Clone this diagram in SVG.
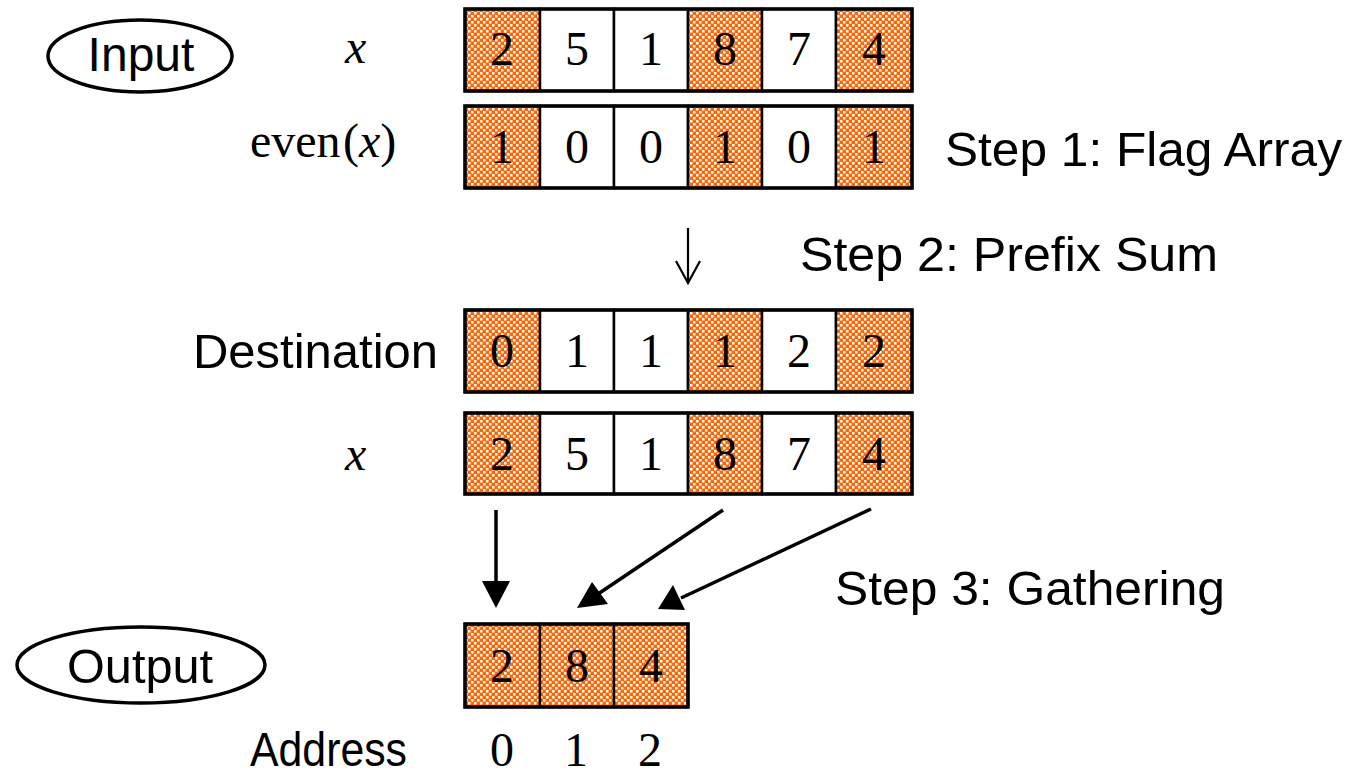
<svg xmlns="http://www.w3.org/2000/svg" width="1350" height="777" viewBox="0 0 1350 777">
<style>
.sans{font-family:"Liberation Sans",Arial,sans-serif;font-size:48px;fill:#000}
.serif{font-family:"Liberation Serif","Times New Roman",serif;font-size:48px;fill:#000}
.num{font-family:"Liberation Serif","Times New Roman",serif;font-size:48px;fill:#000;text-anchor:middle}
.it{font-style:italic}
.cell{stroke:#000;stroke-width:2.5;fill:#fff}
.hl{stroke:#000;stroke-width:2.5;fill:url(#hatch)}
.frame{fill:none;stroke:#000;stroke-width:3.5}
.oval{fill:#fff;stroke:#000;stroke-width:3.5}
.conn{stroke:#000;stroke-width:3.5;fill:none}
.head{fill:#000;stroke:none}
</style>
<defs>
<pattern id="hatch" patternUnits="userSpaceOnUse" width="6" height="6">
<rect width="6" height="6" fill="#ff6600"/>
<rect x="0" y="0" width="2.5" height="2.5" fill="#fff"/>
<rect x="3" y="3" width="2.5" height="2.5" fill="#fff"/>
</pattern>
</defs>
<rect width="1350" height="777" fill="#fff"/>

<g id="input-label">
<ellipse class="oval" cx="140" cy="56" rx="92" ry="36"/>
<text class="sans" x="141" y="71" text-anchor="middle">Input</text>
</g>
<g id="x-label-1"><text class="serif it" x="345" y="63">x</text></g>
<g id="even-label"><text class="serif" x="250" y="157">even</text><text class="serif" x="343" y="157">(<tspan class="it">x</tspan>)</text></g>

<g id="array-x">
<rect class="hl" x="465" y="9" width="75" height="82"/>
<rect class="cell" x="540" y="9" width="74" height="82"/>
<rect class="cell" x="614" y="9" width="74" height="82"/>
<rect class="hl" x="688" y="9" width="74" height="82"/>
<rect class="cell" x="762" y="9" width="74" height="82"/>
<rect class="hl" x="836" y="9" width="76" height="82"/>
<rect class="frame" x="465" y="9" width="447" height="82"/>
<text class="num" x="502" y="65">2</text><text class="num" x="577" y="65">5</text><text class="num" x="651" y="65">1</text>
<text class="num" x="725" y="65">8</text><text class="num" x="799" y="65">7</text><text class="num" x="874" y="65">4</text>
</g>

<g id="array-flag">
<rect class="hl" x="465" y="106" width="75" height="82"/>
<rect class="cell" x="540" y="106" width="74" height="82"/>
<rect class="cell" x="614" y="106" width="74" height="82"/>
<rect class="hl" x="688" y="106" width="74" height="82"/>
<rect class="cell" x="762" y="106" width="74" height="82"/>
<rect class="hl" x="836" y="106" width="76" height="82"/>
<rect class="frame" x="465" y="106" width="447" height="82"/>
<text class="num" x="502" y="163">1</text><text class="num" x="577" y="163">0</text><text class="num" x="651" y="163">0</text>
<text class="num" x="725" y="163">1</text><text class="num" x="799" y="163">0</text><text class="num" x="874" y="163">1</text>
</g>
<g id="step1"><text class="sans" x="945" y="166" textLength="397" lengthAdjust="spacingAndGlyphs">Step 1: Flag Array</text></g>
<g id="step2"><text class="sans" x="800" y="271" textLength="418" lengthAdjust="spacingAndGlyphs">Step 2: Prefix Sum</text></g>

<g id="destination-label"><text class="sans" x="193" y="368" textLength="245" lengthAdjust="spacingAndGlyphs">Destination</text></g>
<g id="array-dest">
<rect class="hl" x="465" y="310" width="75" height="82"/>
<rect class="cell" x="540" y="310" width="74" height="82"/>
<rect class="cell" x="614" y="310" width="74" height="82"/>
<rect class="hl" x="688" y="310" width="74" height="82"/>
<rect class="cell" x="762" y="310" width="74" height="82"/>
<rect class="hl" x="836" y="310" width="76" height="82"/>
<rect class="frame" x="465" y="310" width="447" height="82"/>
<text class="num" x="502" y="367">0</text><text class="num" x="577" y="367">1</text><text class="num" x="651" y="367">1</text>
<text class="num" x="725" y="367">1</text><text class="num" x="799" y="367">2</text><text class="num" x="874" y="367">2</text>
</g>

<g id="x-label-2"><text class="serif it" x="345" y="470">x</text></g>
<g id="array-x2">
<rect class="hl" x="465" y="413" width="75" height="81"/>
<rect class="cell" x="540" y="413" width="74" height="81"/>
<rect class="cell" x="614" y="413" width="74" height="81"/>
<rect class="hl" x="688" y="413" width="74" height="81"/>
<rect class="cell" x="762" y="413" width="74" height="81"/>
<rect class="hl" x="836" y="413" width="76" height="81"/>
<rect class="frame" x="465" y="413" width="447" height="81"/>
<text class="num" x="502" y="470">2</text><text class="num" x="577" y="470">5</text><text class="num" x="651" y="470">1</text>
<text class="num" x="725" y="470">8</text><text class="num" x="799" y="470">7</text><text class="num" x="874" y="470">4</text>
</g>

<g id="step3"><text class="sans" x="835" y="605" textLength="390" lengthAdjust="spacingAndGlyphs">Step 3: Gathering</text></g>

<g id="output-label">
<ellipse class="oval" cx="141" cy="665" rx="124" ry="38"/>
<text class="sans" x="140" y="683" text-anchor="middle" textLength="146" lengthAdjust="spacingAndGlyphs">Output</text>
</g>
<g id="array-out">
<rect class="hl" x="465" y="624" width="75" height="83"/>
<rect class="hl" x="540" y="624" width="74" height="83"/>
<rect class="hl" x="614" y="624" width="74" height="83"/>
<rect class="frame" x="465" y="624" width="223" height="83"/>
<text class="num" x="502" y="682">2</text><text class="num" x="577" y="682">8</text><text class="num" x="651" y="682">4</text>
</g>
<g id="address">
<text class="sans" x="250" y="766" textLength="157" lengthAdjust="spacingAndGlyphs">Address</text>
<text class="num" x="502" y="766">0</text><text class="num" x="576" y="766">1</text><text class="num" x="650" y="766">2</text>
</g>

<g id="connectors">
<path d="M688 228 V282 M676 261 L688 283 L700 261" stroke="#000" stroke-width="2.2" fill="none"/>
<line class="conn" x1="496" y1="510" x2="496" y2="582"/>
<polygon class="head" points="496,608 482,581 510,581"/>
<line class="conn" x1="723" y1="510" x2="598" y2="594"/>
<polygon class="head" points="577,608 592,582 608,604"/>
<line class="conn" x1="871" y1="509" x2="681" y2="598"/>
<polygon class="head" points="658,609 673,585 685,610"/>
</g>
</svg>
